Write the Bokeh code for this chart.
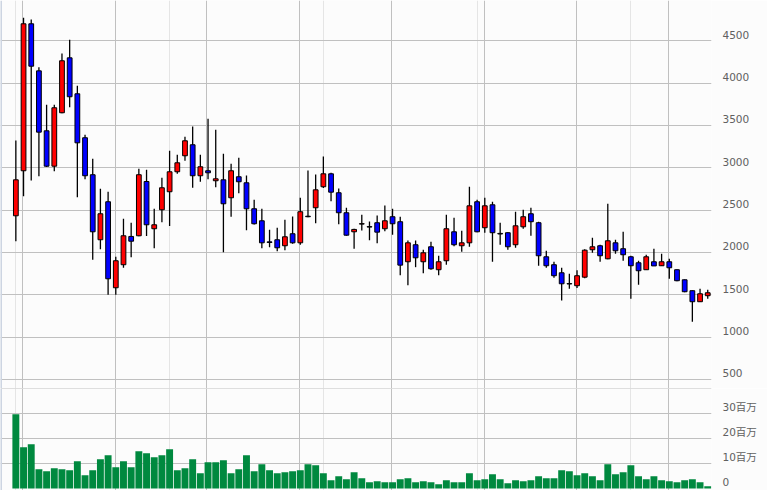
from bokeh.plotting import figure
from bokeh.layouts import column
from bokeh.models import ColumnDataSource, Range1d, FixedTicker, Grid, Span
from bokeh.embed import file_html
from bokeh.resources import INLINE

# ---- data (weekly candles) ----
opens = [2433, 2965, 4701, 4145, 3437, 3019, 3650, 4299, 3874, 3355,
         2918, 2150, 2599, 1583, 1855, 2189, 2197, 2838, 2280, 2504,
         2717, 2953, 3142, 3272, 2906, 2965, 2847, 2858, 2646, 2894,
         2823, 2516, 2374, 2125, 2150, 2079, 2221, 2114, 2428, 2528,
         2776, 2929, 2705, 2469, 2244, 2335, 2305, 2351, 2280, 2422,
         2363, 1890, 2091, 1890, 2067, 1796, 1902, 2244, 2079, 2114,
         2599, 2292, 2563, 2225, 2233, 2091, 2303, 2457, 2351, 1949,
         1855, 1760, 1632, 1607, 1708, 2032, 2079, 1925, 2114, 2044,
         1949, 1878, 1796, 1890, 1843, 1890, 1796, 1677, 1548, 1418, 1489]
highs = [3323, 4772, 4752, 4188, 3744, 3744, 4350, 4512, 3968, 3390,
         3106, 2752, 2717, 1949, 2398, 2351, 2988, 2977, 2516, 2882,
         3201, 3154, 3366, 3488, 3154, 3579, 3449, 3166, 3047, 3118,
         2909, 2622, 2516, 2268, 2292, 2386, 2425, 2646, 2968, 2921,
         3134, 2941, 2756, 2528, 2280, 2445, 2366, 2437, 2555, 2516,
         2422, 2142, 2142, 2032, 2126, 1961, 2445, 2410, 2256, 2776,
         2622, 2646, 2599, 2351, 2240, 2481, 2504, 2528, 2363, 2020,
         1890, 1819, 1748, 1790, 2039, 2173, 2091, 2575, 2150, 2244,
         1961, 1902, 1973, 2044, 1984, 1925, 1800, 1680, 1552, 1571, 1559]
lows = [2133, 2665, 2850, 2901, 3008, 2960, 3645, 3716, 2653, 2866,
        1914, 2039, 1500, 1500, 1819, 1944, 2190, 2193, 2051, 2358,
        2311, 2929, 3083, 2764, 2835, 2866, 2771, 2003, 2422, 2700,
        2263, 2330, 2051, 2062, 2015, 2027, 2103, 2091, 2417, 2346,
        2760, 2606, 2334, 2197, 2044, 2260, 2145, 2110, 2251, 2209,
        1732, 1614, 1826, 1755, 1796, 1732, 1855, 2074, 2008, 2067,
        2240, 2233, 1890, 2091, 2032, 2055, 2280, 2197, 1843, 1819,
        1701, 1433, 1571, 1580, 1696, 1996, 1890, 1920, 1984, 1902,
        1453, 1619, 1796, 1840, 1840, 1689, 1660, 1530, 1181, 1415, 1453]
closes = [2858, 4701, 4200, 3421, 3019, 3709, 4264, 3839, 3295, 2906,
          2244, 2457, 1689, 1902, 2197, 2133, 2918, 2327, 2327, 2764,
          2953, 3059, 3319, 2906, 3012, 2941, 2870, 2575, 2965, 2835,
          2516, 2339, 2114, 2118, 2055, 2185, 2114, 2481, 2422, 2740,
          2929, 2712, 2469, 2204, 2272, 2340, 2300, 2240, 2374, 2339,
          1850, 2114, 1937, 1996, 1807, 1890, 2280, 2091, 2114, 2551,
          2244, 2551, 2233, 2218, 2067, 2315, 2422, 2363, 1961, 1843,
          1725, 1630, 1628, 1725, 2027, 2067, 1961, 2138, 2020, 1973,
          1843, 1784, 1949, 1841, 1890, 1819, 1666, 1536, 1418, 1512, 1524]
volumes_m = [29.7, 16.5, 17.7, 7.7, 6.9, 8.1, 7.7, 7.3, 10.9, 5.3,
             7.3, 11.7, 13.3, 8.5, 10.9, 8.5, 14.9, 14.1, 12.5, 13.3,
             15.7, 7.3, 8.1, 11.7, 6.1, 10.5, 10.5, 11.3, 6.1, 7.7,
             13.3, 6.9, 9.7, 7.3, 6.1, 6.5, 6.9, 7.3, 9.7, 9.3,
             6.1, 3.3, 4.9, 3.7, 6.5, 4.1, 2.5, 2.9, 2.5, 2.5,
             3.7, 4.1, 2.5, 2.9, 2.5, 1.7, 3.3, 2.5, 2.5, 6.1,
             3.3, 3.7, 5.7, 3.7, 2.1, 3.3, 2.9, 3.3, 4.9, 4.1,
             4.1, 7.3, 6.9, 5.3, 6.1, 4.9, 3.3, 9.7, 5.7, 6.5,
             9.3, 4.9, 3.7, 4.9, 3.3, 2.9, 2.5, 3.3, 3.7, 2.5, 0.9]

price_grid = [500, 1000, 1500, 2000, 2500, 3000, 3500, 4000, 4500]
price_labels = ["500", "1000", "1500", "2000", "2500", "3000", "3500", "4000", "4500"]
volume_grid = [0, 10, 20, 30]
volume_labels = ["0", "10百万", "20百万", "30百万"]
period_grid = [0.8, 12.9, 24.85, 36.85, 48.9, 60.9, 72.9, 84.95]

# ---- styling ----
FONT = "DejaVu Sans, Noto Sans CJK JP"
BG = "#fcfcfc"
GRID = "#c0c0c0"
EDGE = "#cdd5e2"
LABEL = "#606060"
UP = "#ff0000"
DOWN = "#0000ff"
VOL = "#00893f"

n = len(opens)
idx = list(range(n))
src = ColumnDataSource(dict(
    x=idx, high=highs, low=lows,
    top=[max(o, c) for o, c in zip(opens, closes)],
    bottom=[min(o, c) for o, c in zip(opens, closes)],
    color=[UP if c >= o else DOWN for o, c in zip(opens, closes)],
    vol=volumes_m,
))

X0, X1 = -1.997, 90.49
x_range = Range1d(X0, X1)


def style_axis(ax, ticks, labels, offset):
    shifted = [t + offset for t in ticks]
    ax.ticker = FixedTicker(ticks=shifted)
    ax.major_label_overrides = {s: l for s, l in zip(shifted, labels)}
    ax.axis_line_color = None
    ax.major_tick_line_color = None
    ax.minor_tick_line_color = None
    ax.major_tick_out = 0
    ax.major_tick_in = 0
    ax.major_label_standoff = 11
    ax.major_label_text_font = FONT
    ax.major_label_text_font_size = "10.5px"
    ax.major_label_text_color = LABEL


# price panel
p = figure(width=767, height=388, x_range=x_range, y_range=Range1d(393, 4976),
           output_backend="svg", toolbar_location=None,
           x_axis_location=None, y_axis_location="right",
           min_border_left=0, min_border_right=56, min_border_top=0, min_border_bottom=0,
           background_fill_color=BG, border_fill_color=BG, outline_line_color=None)
p.ygrid.ticker = FixedTicker(ticks=price_grid)
p.ygrid.grid_line_color = GRID
p.add_layout(Grid(dimension=0, ticker=FixedTicker(ticks=period_grid), grid_line_color=GRID))
p.add_layout(Span(location=X0, dimension="height", line_color=EDGE, line_width=3))
style_axis(p.yaxis[0], price_grid, price_labels, 71)

p.segment(x0="x", y0="high", x1="x", y1="low", source=src, line_color="black", line_width=1.3)
p.vbar(x="x", width=0.62, top="top", bottom="bottom", source=src,
       fill_color="color", line_color="black", line_width=1)

# volume panel
v = figure(width=767, height=102, x_range=x_range, y_range=Range1d(-0.8, 40.0),
           output_backend="svg", toolbar_location=None,
           x_axis_location=None, y_axis_location="right",
           min_border_left=0, min_border_right=56, min_border_top=0, min_border_bottom=0,
           background_fill_color=BG, border_fill_color=BG, outline_line_color=None)
v.ygrid.ticker = FixedTicker(ticks=volume_grid[1:] + [39.85])
v.ygrid.grid_line_color = GRID
v.add_layout(Grid(dimension=0, ticker=FixedTicker(ticks=period_grid), grid_line_color=GRID))
v.add_layout(Span(location=X0, dimension="height", line_color=EDGE, line_width=3))
style_axis(v.yaxis[0], volume_grid, volume_labels, 2.5)

v.vbar(x="x", width=0.9, top="vol", bottom=0, source=src, fill_color=VOL, line_color=None)

layout = column(p, v, spacing=0)
open("out.html", "w").write(file_html(layout, INLINE))
